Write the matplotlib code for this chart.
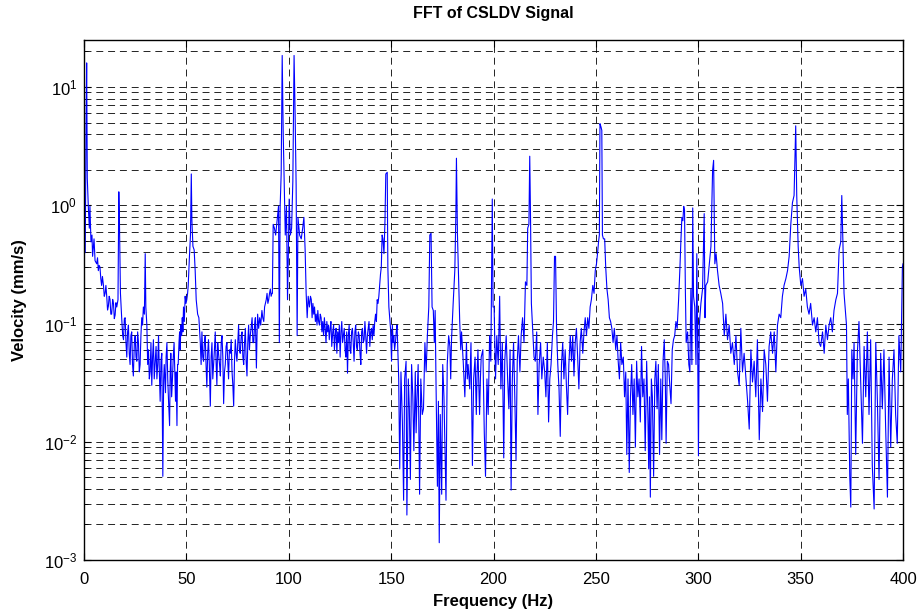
# -*- coding: utf-8 -*-
"""
Espectro FFT de la senal CSLDV (escala logaritmica)
"""

import numpy as np
import matplotlib
matplotlib.use('Agg')
import matplotlib.pyplot as plt
from matplotlib.ticker import LogLocator, NullFormatter

# Fuente tipo Arial / Helvetica
plt.rcParams['font.family'] = ['Liberation Sans', 'DejaVu Sans']
plt.rcParams['mathtext.fontset'] = 'custom'
plt.rcParams['mathtext.rm'] = 'Liberation Sans'
plt.rcParams['mathtext.default'] = 'regular'
plt.rcParams['lines.scale_dashes'] = False

# ---------------------------------------------------------
# Datos: (frecuencia Hz, velocidad mm/s)
# ---------------------------------------------------------
band_000 = [(0.0, 0.39), (0.6, 0.40), (1.0, 4.6), (1.3, 16.0), (1.6, 1.7),
            (2.1, 0.98), (2.6, 0.64), (2.9, 0.98), (3.4, 0.49), (3.9, 0.56),
            (4.2, 0.37), (4.9, 0.52), (5.4, 0.34), (6.2, 0.32), (6.6, 0.36),
            (7.0, 0.28), (7.4, 0.31), (7.8, 0.30), (8.2, 0.24), (8.6, 0.21),
            (9.0, 0.25), (9.5, 0.21), (9.9, 0.17), (10.3, 0.18), (10.7, 0.21),
            (11.1, 0.17), (11.5, 0.13), (11.9, 0.14), (12.3, 0.17), (12.7, 0.16),
            (13.1, 0.12), (13.5, 0.12), (14.0, 0.16), (14.4, 0.148), (14.8, 0.11),
            (15.2, 0.118), (15.6, 0.15), (16.0, 0.138), (16.6, 0.159), (17.0, 1.30),
            (17.3, 0.75), (17.8, 0.18), (18.4, 0.112), (18.9, 0.079), (19.3, 0.073),
            (19.7, 0.11)]

band_020 = [(20.1, 0.112), (20.5, 0.069), (20.9, 0.052), (21.3, 0.085), (21.7, 0.097),
            (22.1, 0.056), (22.5, 0.045), (22.9, 0.079), (23.3, 0.085), (23.7, 0.045),
            (24.1, 0.036), (24.6, 0.069), (25.0, 0.079), (25.4, 0.052), (25.8, 0.048),
            (26.2, 0.085), (26.6, 0.069), (27.0, 0.039), (27.4, 0.045), (27.8, 0.079),
            (28.2, 0.112), (28.6, 0.097), (29.0, 0.138), (29.5, 0.12), (29.9, 0.39),
            (30.2, 0.138), (30.7, 0.097)]

band_031 = [(31.1, 0.045), (31.5, 0.060), (31.9, 0.034), (32.3, 0.039), (32.7, 0.069),
            (33.1, 0.030), (33.5, 0.052), (33.9, 0.073), (34.3, 0.034), (34.7, 0.045),
            (35.2, 0.064), (35.6, 0.034), (36.0, 0.045), (36.4, 0.079), (36.8, 0.039),
            (37.2, 0.022), (37.6, 0.048), (38.0, 0.056), (38.5, 0.0051), (38.9, 0.034),
            (39.2, 0.045), (39.8, 0.026), (40.1, 0.052), (40.5, 0.069), (40.9, 0.034),
            (41.3, 0.022), (41.8, 0.0137), (42.1, 0.039), (42.4, 0.056), (42.8, 0.024),
            (43.2, 0.034), (43.6, 0.052), (44.0, 0.069), (44.4, 0.034), (44.7, 0.022),
            (45.0, 0.039), (45.4, 0.0137), (45.7, 0.045), (46.0, 0.045), (46.4, 0.069),
            (46.7, 0.085), (47.0, 0.060), (47.3, 0.097), (47.7, 0.079), (48.0, 0.112)]

band_048 = [(48.3, 0.085), (48.6, 0.138), (49.0, 0.104), (49.4, 0.17), (49.8, 0.148),
            (50.2, 0.159), (50.6, 0.18), (50.9, 0.21), (51.2, 0.28), (51.5, 0.37),
            (52.0, 0.56), (52.4, 1.84), (52.7, 0.74), (53.2, 0.45), (53.8, 0.42),
            (54.3, 0.28), (54.8, 0.159), (55.5, 0.12), (56.1, 0.112)]

band_056 = [(56.8, 0.069), (57.2, 0.045), (57.6, 0.085), (58.0, 0.052), (58.4, 0.048),
            (58.8, 0.069), (59.2, 0.079), (59.6, 0.045), (60.0, 0.029), (60.4, 0.056),
            (60.8, 0.073), (61.2, 0.045), (61.7, 0.020), (62.1, 0.052), (62.5, 0.069),
            (62.9, 0.034), (63.3, 0.045), (63.7, 0.060), (64.1, 0.085), (64.5, 0.048),
            (64.9, 0.030), (65.3, 0.069), (65.7, 0.056), (66.2, 0.045), (66.6, 0.036),
            (67.0, 0.069), (67.4, 0.079), (67.8, 0.052), (68.2, 0.021), (68.6, 0.039),
            (69.0, 0.045), (69.4, 0.064), (69.8, 0.069), (70.2, 0.048), (70.6, 0.034),
            (71.0, 0.060), (71.5, 0.056), (71.9, 0.073), (72.3, 0.039), (72.7, 0.030),
            (73.1, 0.020), (73.5, 0.048), (73.9, 0.073), (74.3, 0.056), (74.7, 0.048),
            (75.1, 0.069), (75.5, 0.097), (75.9, 0.060), (76.3, 0.056), (76.8, 0.079),
            (77.2, 0.085), (77.6, 0.052), (78.0, 0.045), (78.4, 0.069), (78.8, 0.091),
            (79.2, 0.048), (79.6, 0.036), (80.0, 0.069), (80.4, 0.097), (80.8, 0.060),
            (81.2, 0.079), (81.6, 0.091), (82.1, 0.112), (82.5, 0.069), (82.9, 0.069),
            (83.3, 0.097), (83.7, 0.112), (84.2, 0.042), (84.5, 0.079), (84.8, 0.12),
            (85.3, 0.091), (85.8, 0.112), (86.3, 0.097), (86.9, 0.129), (87.3, 0.112),
            (87.8, 0.104), (88.2, 0.138), (88.6, 0.148), (89.0, 0.159), (89.4, 0.18),
            (89.8, 0.148), (90.2, 0.159), (90.6, 0.18), (91.0, 0.196), (91.4, 0.17),
            (91.8, 0.18)]

band_092 = [(92.0, 0.18), (92.4, 0.69), (93.0, 0.64), (93.6, 0.56), (94.3, 0.74),
            (95.0, 0.98), (95.4, 0.069), (95.8, 0.98), (96.3, 1.84), (96.8, 18.5),
            (97.3, 4.0), (97.7, 1.84), (98.3, 0.56), (98.9, 0.98), (99.4, 0.159),
            (99.8, 0.39), (100.2, 1.13), (100.8, 0.56), (101.4, 0.64), (102.0, 1.6),
            (102.6, 18.5), (103.1, 6.0), (103.6, 1.49), (104.1, 0.079), (104.5, 0.79),
            (105.3, 0.56), (106.1, 0.52), (106.8, 0.64), (107.4, 0.79), (108.0, 0.42),
            (108.5, 0.18), (109.0, 0.112), (109.5, 0.17), (110.1, 0.138)]

band_110 = [(110.6, 0.17), (111.0, 0.16), (111.4, 0.112), (111.8, 0.148), (112.2, 0.12),
            (112.6, 0.138), (113.0, 0.104), (113.4, 0.12), (113.8, 0.097), (114.2, 0.129),
            (114.6, 0.104), (115.0, 0.097), (115.4, 0.12), (115.8, 0.112), (116.2, 0.085),
            (116.6, 0.104), (117.0, 0.079), (117.4, 0.112), (117.8, 0.091), (118.2, 0.069),
            (118.6, 0.104), (119.0, 0.085), (119.4, 0.097), (119.8, 0.073), (120.2, 0.091),
            (120.6, 0.104), (121.0, 0.064), (121.5, 0.085), (121.9, 0.097), (122.3, 0.060),
            (122.7, 0.079), (123.1, 0.091), (123.5, 0.056), (123.9, 0.085), (124.3, 0.069),
            (124.7, 0.097), (125.1, 0.052), (125.5, 0.085), (125.9, 0.104), (126.3, 0.069),
            (126.7, 0.079), (127.1, 0.091), (127.5, 0.060), (127.9, 0.052), (128.3, 0.085),
            (128.7, 0.038), (129.1, 0.079), (129.5, 0.097), (129.9, 0.060), (130.3, 0.056),
            (130.7, 0.085), (131.1, 0.091), (131.5, 0.069), (131.9, 0.048), (132.3, 0.085),
            (132.7, 0.097), (133.1, 0.064), (133.5, 0.060), (134.0, 0.085), (134.4, 0.079),
            (134.8, 0.056), (135.2, 0.045), (135.6, 0.085), (136.0, 0.091), (136.4, 0.069),
            (136.8, 0.073), (137.2, 0.104), (137.6, 0.079), (138.0, 0.056), (138.4, 0.079),
            (138.8, 0.091), (139.2, 0.104), (139.6, 0.064), (140.0, 0.085), (140.4, 0.091),
            (140.8, 0.073), (141.2, 0.097), (141.6, 0.079), (142.0, 0.104), (142.4, 0.12),
            (142.8, 0.104)]

band_143 = [(143.2, 0.159), (143.6, 0.148), (144.0, 0.17), (144.4, 0.21), (144.8, 0.26),
            (145.2, 0.30), (145.6, 0.56), (146.0, 0.52), (146.5, 0.39), (147.0, 0.74),
            (147.4, 1.84), (148.1, 1.90), (148.4, 0.30), (148.9, 0.138), (149.3, 0.112),
            (149.7, 0.091), (150.2, 0.048), (150.6, 0.097), (151.0, 0.069), (151.3, 0.079),
            (151.7, 0.060), (152.1, 0.069), (152.5, 0.085), (152.9, 0.097), (153.3, 0.056)]

band_153 = [(153.7, 0.034), (154.2, 0.0059), (154.8, 0.039), (155.5, 0.0147), (156.1, 0.0032),
            (156.6, 0.034), (157.3, 0.048), (157.7, 0.0024), (158.4, 0.034), (158.9, 0.019),
            (159.4, 0.0048), (160.0, 0.045), (160.6, 0.024), (161.1, 0.0084), (161.8, 0.039),
            (162.2, 0.0119), (162.6, 0.022), (163.2, 0.045), (163.9, 0.0036), (164.5, 0.034),
            (165.2, 0.017), (165.8, 0.019), (166.5, 0.069), (167.1, 0.039), (167.7, 0.079),
            (168.4, 0.138), (168.9, 0.56), (169.5, 0.58), (170.0, 0.138), (170.6, 0.129),
            (171.1, 0.069), (171.5, 0.129), (171.9, 0.034), (172.6, 0.0042), (173.1, 0.022),
            (173.5, 0.0014), (174.0, 0.017), (174.7, 0.0036), (175.2, 0.045), (175.8, 0.024),
            (176.3, 0.0084), (176.8, 0.0032), (177.4, 0.045), (178.1, 0.079), (178.7, 0.064),
            (179.1, 0.034), (179.5, 0.073), (180.3, 0.148), (181.1, 0.28), (181.6, 0.79),
            (181.9, 2.5), (182.4, 0.56), (183.1, 0.196), (183.5, 0.104), (184.0, 0.060),
            (184.4, 0.085), (185.2, 0.048), (185.6, 0.034), (186.0, 0.024), (186.8, 0.069),
            (187.2, 0.034), (187.6, 0.045), (188.4, 0.028), (189.0, 0.069), (189.7, 0.0063),
            (190.3, 0.034), (191.0, 0.052), (191.6, 0.017), (192.0, 0.039), (192.4, 0.060),
            (193.2, 0.017), (193.6, 0.034), (194.0, 0.052), (194.8, 0.060), (195.5, 0.0119),
            (196.1, 0.0051), (196.8, 0.034), (197.4, 0.017), (198.1, 0.079), (198.7, 0.048),
            (199.4, 1.13), (199.8, 0.138)]

band_200 = [(200.3, 0.138), (201.0, 0.034), (201.6, 0.079), (202.3, 0.045), (203.0, 0.17),
            (203.6, 0.028), (204.3, 0.069), (205.0, 0.0073), (205.5, 0.048), (206.2, 0.079),
            (206.9, 0.034), (207.5, 0.019), (208.1, 0.060), (208.6, 0.0039), (209.2, 0.034),
            (209.8, 0.069), (210.4, 0.024), (211.0, 0.0070), (211.6, 0.048), (212.2, 0.079),
            (212.9, 0.039), (213.5, 0.079), (214.2, 0.112), (214.9, 0.069), (215.6, 0.225),
            (216.3, 0.21), (216.7, 0.64), (217.3, 0.69), (217.7, 2.6), (218.1, 0.74),
            (218.5, 0.148), (219.2, 0.085), (219.8, 0.052), (220.4, 0.048), (221.1, 0.085),
            (221.7, 0.017), (222.3, 0.045), (223.0, 0.069), (223.6, 0.034), (224.3, 0.052),
            (225.0, 0.039), (225.6, 0.024), (226.3, 0.069), (226.9, 0.0147), (227.5, 0.034),
            (228.1, 0.045), (228.8, 0.079), (229.3, 0.104), (229.8, 0.37), (230.3, 0.37),
            (230.8, 0.091), (231.4, 0.045), (232.0, 0.028), (232.6, 0.0111), (233.2, 0.045),
            (233.8, 0.069), (234.4, 0.034), (235.0, 0.060), (235.6, 0.030), (236.2, 0.017),
            (236.8, 0.045), (237.5, 0.079), (238.1, 0.048), (238.7, 0.079), (239.3, 0.036),
            (239.9, 0.069), (240.5, 0.091), (241.1, 0.052), (241.7, 0.028), (242.3, 0.069),
            (242.9, 0.091), (243.6, 0.056), (244.2, 0.085), (244.8, 0.112), (245.4, 0.079),
            (246.0, 0.112), (246.6, 0.091), (247.2, 0.138), (247.8, 0.159), (248.5, 0.21),
            (249.1, 0.18), (249.7, 0.28)]

band_250 = [(250.3, 0.32), (250.8, 0.39), (251.3, 0.49), (251.7, 0.56), (252.0, 4.9),
            (252.5, 4.6), (252.9, 4.3), (253.2, 0.56), (253.7, 0.52), (254.3, 0.52),
            (254.8, 0.30), (255.4, 0.196), (256.0, 0.159), (256.6, 0.112), (257.2, 0.104),
            (257.8, 0.091), (258.4, 0.069), (259.0, 0.091), (259.7, 0.060), (260.3, 0.079),
            (260.9, 0.048), (261.5, 0.034), (262.1, 0.069), (262.7, 0.045), (263.4, 0.052),
            (264.0, 0.024), (264.6, 0.039), (265.1, 0.0078), (265.7, 0.034), (266.3, 0.0055),
            (266.9, 0.024), (267.5, 0.045), (268.1, 0.017), (268.7, 0.034), (269.3, 0.009),
            (269.9, 0.048), (270.5, 0.024), (271.1, 0.034), (271.7, 0.0147), (272.3, 0.064),
            (272.9, 0.024), (273.5, 0.034), (274.1, 0.0084), (274.8, 0.048), (275.4, 0.017),
            (275.8, 0.0059), (276.2, 0.024), (276.6, 0.0034), (277.1, 0.034), (277.6, 0.024),
            (278.2, 0.0051), (278.8, 0.034), (279.3, 0.048), (279.9, 0.019), (280.5, 0.045),
            (281.1, 0.0078), (281.7, 0.034), (282.2, 0.0104), (282.8, 0.048), (283.4, 0.073),
            (283.9, 0.034), (284.3, 0.0097), (284.9, 0.048), (285.5, 0.045), (286.1, 0.030),
            (286.7, 0.021), (287.3, 0.060), (287.9, 0.073), (288.5, 0.079), (289.1, 0.104),
            (289.7, 0.091), (290.4, 0.159), (291.0, 0.28), (291.5, 0.49), (292.0, 0.79),
            (292.5, 0.74), (292.9, 0.98), (293.3, 0.91), (293.7, 0.196), (294.1, 0.069),
            (294.8, 0.085), (295.4, 0.045), (295.9, 0.039), (296.4, 0.196), (296.9, 0.045),
            (297.3, 0.95), (297.7, 0.17), (298.3, 0.138), (298.9, 0.045), (299.3, 0.39),
            (299.7, 0.069)]

band_300 = [(300.1, 0.0076), (300.5, 0.097), (301.3, 0.148), (302.1, 0.196), (302.9, 0.85),
            (303.3, 0.112), (303.7, 0.21), (304.6, 0.225), (305.4, 0.32), (306.2, 0.45),
            (307.0, 1.97), (307.5, 2.4), (308.1, 0.32), (308.7, 0.39), (309.4, 0.28),
            (310.2, 0.21), (311.0, 0.18), (311.9, 0.148), (312.7, 0.079), (313.5, 0.12),
            (314.3, 0.073), (315.1, 0.097), (315.9, 0.056), (316.7, 0.069), (317.6, 0.045),
            (318.4, 0.079), (319.2, 0.039), (320.0, 0.030), (320.8, 0.091), (321.6, 0.039),
            (322.4, 0.056), (323.3, 0.034), (324.1, 0.022), (324.9, 0.0128), (325.7, 0.060),
            (326.5, 0.032), (327.3, 0.048), (328.1, 0.024), (328.9, 0.073), (329.8, 0.0104),
            (330.6, 0.034), (331.4, 0.018), (332.2, 0.060), (333.0, 0.045), (333.8, 0.022),
            (334.6, 0.064), (335.4, 0.085), (336.3, 0.056), (337.1, 0.085), (337.9, 0.039),
            (338.7, 0.097), (339.5, 0.12), (340.3, 0.112), (341.1, 0.17), (341.9, 0.21),
            (342.8, 0.24), (343.6, 0.28), (344.4, 0.37), (345.2, 0.69), (346.0, 1.05),
            (346.8, 1.21), (347.6, 4.7), (348.1, 1.21), (348.8, 0.45), (349.3, 0.30)]

band_350 = [(350.1, 0.21), (350.9, 0.24), (351.7, 0.17), (352.5, 0.196), (353.3, 0.138),
            (354.1, 0.12), (354.9, 0.148), (355.8, 0.097), (356.6, 0.112), (357.4, 0.085),
            (358.2, 0.112), (359.0, 0.069), (359.8, 0.064), (360.7, 0.085), (361.5, 0.056),
            (362.3, 0.097), (363.1, 0.073), (363.9, 0.097), (364.7, 0.112), (365.5, 0.085),
            (366.3, 0.129), (367.2, 0.159), (368.0, 0.18), (368.8, 0.42), (369.6, 0.49),
            (370.1, 1.21), (370.7, 0.45), (371.2, 0.18), (371.7, 0.138), (372.4, 0.097),
            (372.8, 0.017), (373.3, 0.034), (374.0, 0.0051), (374.5, 0.0028), (375.0, 0.060),
            (375.6, 0.034), (376.1, 0.069), (376.9, 0.0078), (377.7, 0.056), (378.5, 0.104),
            (379.3, 0.034), (380.2, 0.0097), (381.0, 0.064), (381.8, 0.024), (382.6, 0.085),
            (383.4, 0.017), (384.2, 0.073), (385.0, 0.0063), (385.9, 0.0027), (386.7, 0.069),
            (387.5, 0.022), (388.3, 0.0048), (389.1, 0.056), (389.9, 0.019), (390.7, 0.060),
            (391.5, 0.0137), (392.4, 0.0034), (393.2, 0.052), (394.0, 0.009), (394.8, 0.034),
            (395.6, 0.060), (396.4, 0.017), (397.2, 0.0097), (398.0, 0.079), (398.9, 0.039),
            (399.7, 0.30), (400.0, 0.32)]

x_ticks = [0, 50, 100, 150, 200, 250, 300, 350, 400]

# Unir todas las bandas
bands = [band_000, band_020, band_031, band_048, band_056, band_092, band_110,
         band_143, band_153, band_200, band_250, band_300, band_350]
freq = np.array([p[0] for b in bands for p in b])
vel = np.array([p[1] for b in bands for p in b])

# ---------------------------------------------------------
# Figura
# ---------------------------------------------------------
fig = plt.figure(figsize=(9.23, 6.16), dpi=100)
ax = fig.add_axes([84 / 923, 56 / 616, 819 / 923, 520 / 616])

ax.semilogy(freq, vel, color='#0000ff', linewidth=0.8)

ax.set_xlim(0, 400)
ax.set_ylim(1e-3, 25)
ax.set_xticks(x_ticks)
ax.yaxis.set_major_locator(LogLocator(base=10, numticks=10))
ax.yaxis.set_minor_locator(LogLocator(base=10, subs=np.arange(2, 10), numticks=20))
ax.yaxis.set_minor_formatter(NullFormatter())

# Rejilla discontinua (mayor en x e y, menor solo en y)
grid_style = dict(color='black', linestyle=(0, (5, 3.5)), linewidth=0.6)
ax.grid(True, which='major', axis='both', **grid_style)
ax.grid(True, which='minor', axis='y', **grid_style)

ax.tick_params(which='both', direction='in', top=True, right=True, labelsize=12)
ax.tick_params(which='major', length=5)
ax.tick_params(which='minor', length=3)
ax.tick_params(axis='x', pad=9)
ax.tick_params(axis='y', pad=5)
for s in ax.spines.values():
    s.set_linewidth(1.0)

ax.set_title('FFT of CSLDV Signal', fontsize=11.5, fontweight='bold', pad=16)
ax.set_xlabel('Frequency (Hz)', fontsize=12, fontweight='bold', labelpad=5)
ax.set_ylabel('Velocity (mm/s)', fontsize=12, fontweight='bold', labelpad=12)

fig.savefig('out.png', dpi=100)
